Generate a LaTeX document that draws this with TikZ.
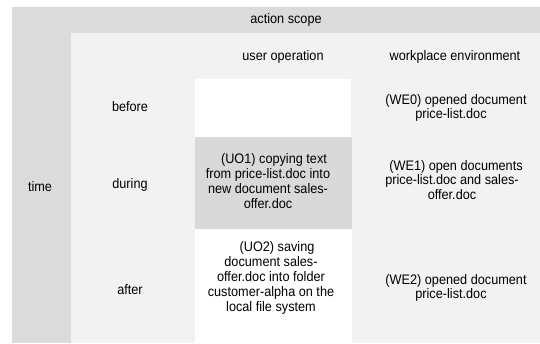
\documentclass[tikz,border=0pt]{standalone}
\usepackage{fontspec}
\setmainfont{Liberation Sans}[FakeStretch=0.92]
\definecolor{scopegray}{HTML}{DBDBDB}
\definecolor{panelgray}{HTML}{F2F2F2}
\definecolor{cellgray}{HTML}{D9D9D9}
\tikzset{
  lbl/.style={font=\fontsize{13.8}{14.8}\selectfont, align=center, inner sep=0pt, text=black},
}
\begin{document}
\begin{tikzpicture}[x=1pt,y=-1pt]
  \useasboundingbox (0,0) rectangle (540,343);
  % background panels
  \fill[scopegray] (12,7) rectangle (540,343);
  \fill[panelgray] (71,33) rectangle (540,343);
  \fill[white]     (195,79) rectangle (351,137);
  \fill[cellgray]  (195,137) rectangle (352,229);
  \fill[white]     (195,229) rectangle (352,343);
  % headers
  \node[lbl] (scope) at (286,20) {action scope};
  \node[lbl] (uo)    at (283,57) {user operation};
  \node[lbl] (we)    at (455,57) {workplace environment};
  \node[lbl] (time)  at (40,187) {time};
  % row labels
  \node[lbl] (before) at (130,107) {before};
  \node[lbl] (during) at (130,185) {during};
  \node[lbl] (after)  at (130,290) {after};
  % cell contents
  \node[lbl] (we0) at (451,108) {\hspace*{10pt}(WE0) opened document\\price-list.doc};
  \node[lbl] (uo1) at (268,181) {\hspace*{12pt}(UO1) copying text\\from price-list.doc into\\new document sales-\\offer.doc};
  \node[lbl] (we1) at (452,180) {\hspace*{8pt}(WE1) open documents\\price-list.doc and sales-\\offer.doc};
  \node[lbl] (uo2) at (271,278) {\hspace*{12pt}(UO2) saving\\document sales-\\offer.doc into folder\\customer-alpha on the\\local file system};
  \node[lbl] (we2) at (451,288) {\hspace*{10pt}(WE2) opened document\\price-list.doc};
\end{tikzpicture}
\end{document}
